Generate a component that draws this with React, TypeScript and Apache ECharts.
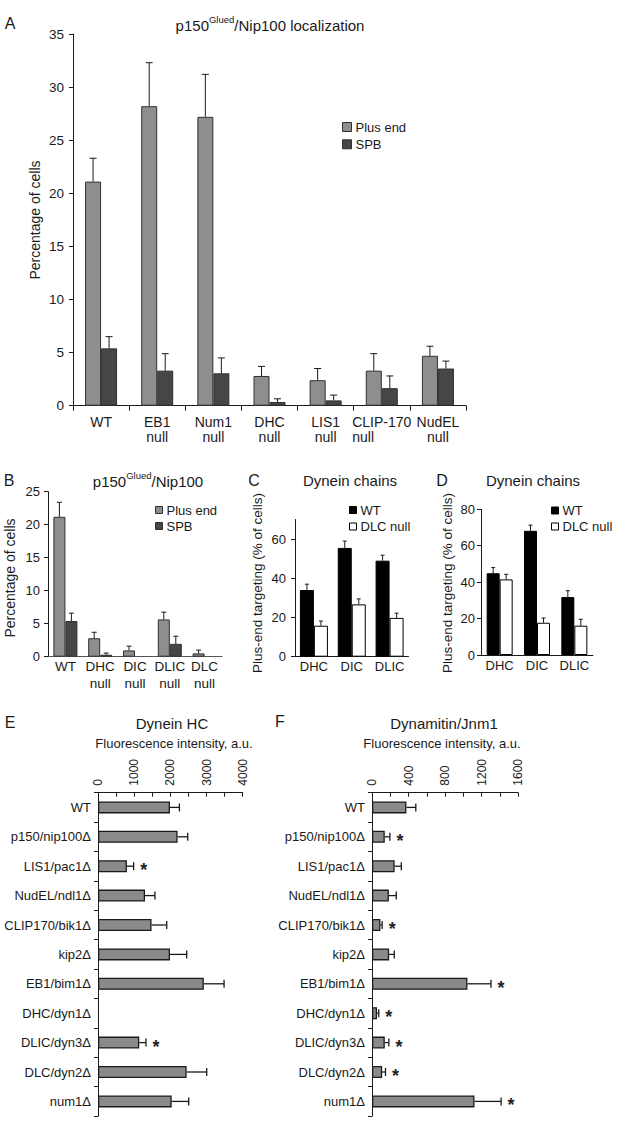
import { useEffect, useRef } from 'react';
import * as echarts from 'echarts';

const FONT = '"Liberation Sans", Arial, Helvetica, sans-serif';
const INK = '#1a1a1a';

// ---------- Panel A: p150Glued/Nip100 localization ----------
const catsA = ['WT', 'EB1\nnull', 'Num1\nnull', 'DHC\nnull', 'LIS1\nnull', 'CLIP-170\nnull', 'NudEL\nnull'];
const plusEndA = [21.1, 28.2, 27.2, 2.8, 2.4, 3.3, 4.7];
const plusEndErrA = [23.3, 32.3, 31.2, 3.7, 3.5, 4.9, 5.6];
const spbA = [5.4, 3.3, 3.05, 0.35, 0.5, 1.65, 3.5];
const spbErrA = [6.5, 4.9, 4.5, 0.65, 1.0, 2.8, 4.2];
const yMaxA = 35;
const yStepA = 5;

// ---------- Panel B ----------
const catsB = ['WT', 'DHC\nnull', 'DIC\nnull', 'DLIC\nnull', 'DLC\nnull'];
const plusEndB = [21.2, 2.8, 0.95, 5.65, 0.5];
const plusEndErrB = [23.4, 3.7, 1.6, 6.75, 1.0];
const spbB = [5.4, 0.3, 0, 1.95, 0];
const spbErrB = [6.6, 0.55, 0, 3.1, 0];
const yMaxB = 25;
const yStepB = 5;

// ---------- Panels C and D: Dynein chains ----------
const catsCD = ['DHC', 'DIC', 'DLIC'];
const wtC = [34, 55.5, 49];
const wtErrC = [37, 59, 51.8];
const dlcC = [15.8, 26.7, 19.8];
const dlcErrC = [18.2, 29.5, 22.2];
const yMaxC = 70;
const yStepC = 20;
const wtD = [44.9, 68.2, 31.8];
const wtErrD = [48, 71.3, 35.3];
const dlcD = [41.5, 17.7, 16.1];
const dlcErrD = [44.3, 20.3, 19.6];
const yMaxD = 80;
const yStepD = 20;

// ---------- Panels E and F: fluorescence intensity ----------
const catsEF = [
  'WT', 'p150/nip100Δ', 'LIS1/pac1Δ', 'NudEL/ndl1Δ', 'CLIP170/bik1Δ', 'kip2Δ',
  'EB1/bim1Δ', 'DHC/dyn1Δ', 'DLIC/dyn3Δ', 'DLC/dyn2Δ', 'num1Δ',
];
const valE = [1990, 2200, 800, 1300, 1480, 1990, 2925, null, 1140, 2450, 2037];
const errE = [2250, 2480, 985, 1575, 1900, 2452, 3485, null, 1326, 3005, 2507];
const sigE = [0, 0, 1, 0, 0, 0, 0, 0, 1, 0, 0];
const xMaxE = 4000;
const xStepE = 500;
const xLabelStepE = 1000;
const valF = [377, 140, 248, 185, 92, 188, 1046, 55, 140, 111, 1123];
const errF = [480, 196, 321, 266, 111, 244, 1304, 74, 185, 148, 1415];
const sigF = [0, 1, 0, 0, 1, 0, 1, 1, 1, 1, 1];
const xMaxF = 1600;
const xStepF = 200;
const xLabelStepF = 400;

const PLUS_FILL = '#8e8e8e';
const SPB_FILL = '#464646';

function vErr(gridIdx: number, vals: number[], errs: number[], offset: number, cap: number) {
  return {
    type: 'custom',
    xAxisIndex: gridIdx,
    yAxisIndex: gridIdx,
    silent: true,
    clip: false,
    z: 5,
    data: vals.map((v, i) => [i, v, errs[i]]),
    encode: { x: 0, y: [1, 2] },
    renderItem: (_p: any, api: any) => {
      const i = api.value(0);
      const v = api.value(1);
      const e = api.value(2);
      if (!(e > v)) return { type: 'group', children: [] };
      const p0 = api.coord([i, v]);
      const p1 = api.coord([i, e]);
      const x = p0[0] + offset;
      const st = { stroke: INK, lineWidth: 1 };
      return {
        type: 'group',
        children: [
          { type: 'line', shape: { x1: x, y1: p0[1], x2: x, y2: p1[1] }, style: st },
          { type: 'line', shape: { x1: x - cap / 2, y1: p1[1], x2: x + cap / 2, y2: p1[1] }, style: st },
        ],
      };
    },
  };
}

function hErr(gridIdx: number, vals: (number | null)[], errs: (number | null)[], sig: number[], cap: number) {
  return {
    type: 'custom',
    xAxisIndex: gridIdx,
    yAxisIndex: gridIdx,
    silent: true,
    clip: false,
    z: 5,
    data: vals.map((v, i) => [i, v == null ? 0 : v, errs[i] == null ? 0 : errs[i], sig[i]]),
    encode: { y: 0, x: [1, 2] },
    renderItem: (_p: any, api: any) => {
      const i = api.value(0);
      const v = api.value(1);
      const e = api.value(2);
      const s = api.value(3);
      if (!(e > v)) return { type: 'group', children: [] };
      const p0 = api.coord([v, i]);
      const p1 = api.coord([e, i]);
      const st = { stroke: INK, lineWidth: 1.3 };
      const children: any[] = [
        { type: 'line', shape: { x1: p0[0], y1: p0[1], x2: p1[0], y2: p1[1] }, style: st },
        { type: 'line', shape: { x1: p1[0], y1: p1[1] - cap / 2, x2: p1[0], y2: p1[1] + cap / 2 }, style: st },
      ];
      if (s) {
        children.push({
          type: 'text',
          x: p1[0] + 10,
          y: p1[1] + 4,
          style: {
            text: '*', fontSize: 18, fontWeight: 'bold', fontFamily: FONT, fill: '#222',
            align: 'center', verticalAlign: 'middle',
          },
        });
      }
      return { type: 'group', children };
    },
  };
}

const labelBase = { fontFamily: FONT, color: INK };

function valueY(gridIdx: number, max: number, step: number, margin: number, fontSize: number, extra: any = {}) {
  return {
    type: 'value',
    gridIndex: gridIdx,
    min: 0,
    max,
    interval: step,
    axisLine: { show: true, lineStyle: { color: INK, width: 1 } },
    axisTick: { show: true, length: 4, lineStyle: { color: INK } },
    splitLine: { show: false },
    axisLabel: { ...labelBase, fontSize, margin, ...extra },
  };
}

function catX(gridIdx: number, data: string[], fontSize: number, margin: number, lineHeight: number, ticks: boolean, lineColor = INK, extra: any = {}) {
  return {
    type: 'category',
    gridIndex: gridIdx,
    data,
    axisLine: { show: true, lineStyle: { color: lineColor, width: 1 } },
    axisTick: { show: ticks, length: 5, interval: 0, alignWithLabel: false, lineStyle: { color: INK } },
    axisLabel: { ...labelBase, fontSize, interval: 0, margin, lineHeight, ...extra },
  };
}

function topValueX(gridIdx: number, max: number, step: number, labelStep: number) {
  return {
    type: 'value',
    gridIndex: gridIdx,
    position: 'top',
    min: 0,
    max,
    interval: step,
    axisLine: { show: true, lineStyle: { color: INK, width: 1 } },
    axisTick: { show: true, inside: true, length: 4, lineStyle: { color: INK } },
    splitLine: { show: false },
    axisLabel: {
      ...labelBase,
      fontSize: 12,
      rotate: -90,
      margin: 7,
      formatter: (v: number) => (v % labelStep === 0 ? String(v) : ''),
    },
  };
}

function catYEF(gridIdx: number) {
  return {
    type: 'category',
    gridIndex: gridIdx,
    data: catsEF,
    inverse: true,
    axisLine: { show: true, lineStyle: { color: INK, width: 1 } },
    axisTick: { show: true, length: 4, interval: 0, alignWithLabel: false, lineStyle: { color: INK } },
    axisLabel: { ...labelBase, fontSize: 13, interval: 0, margin: 7 },
  };
}

function txt(text: string, x: number, y: number, fontSize: number, extra: any = {}) {
  return {
    type: 'text',
    x,
    y,
    silent: true,
    style: {
      text, fontSize, fontFamily: FONT, fill: INK, align: 'center', verticalAlign: 'middle',
      ...extra,
    },
  };
}

function vtxt(text: string, x: number, y: number, fontSize: number) {
  return { ...txt(text, x, y, fontSize), rotation: Math.PI / 2 };
}

const supRich = {
  m: { fontFamily: FONT, fontSize: 15, fill: INK, lineHeight: 22, verticalAlign: 'middle' },
  s: { fontFamily: FONT, fontSize: 9.5, fill: INK, lineHeight: 10, verticalAlign: 'top' },
};

function legend(names: string[], left: number, top: number, size: number, gap: number) {
  return {
    data: names,
    left,
    top,
    orient: 'vertical',
    padding: 0,
    itemWidth: size,
    itemHeight: size,
    itemGap: gap,
    icon: 'rect',
    selectedMode: false,
    itemStyle: { borderWidth: 1 },
    textStyle: { fontFamily: FONT, fontSize: 13, color: INK, lineHeight: 13, padding: [0, 0, 0, -1] },
  };
}

function buildOption() {
  const barA = { borderColor: '#303030', borderWidth: 1 };
  return {
    animation: false,
    backgroundColor: '#ffffff',
    textStyle: { fontFamily: FONT },
    grid: [
      { left: 73, top: 34, width: 393, height: 371.7 },
      { left: 48, top: 491.7, width: 174, height: 165 },
      { left: 295, top: 519.5, width: 113.5, height: 137.2 },
      { left: 481, top: 509.3, width: 112, height: 145.7 },
      { left: 98, top: 792.7, width: 144.7, height: 323.4 },
      { left: 372, top: 792.7, width: 146, height: 323.4 },
    ],
    xAxis: [
      catX(0, catsA, 14, 8, 15.6, true, INK, {
        formatter: (v: string) => (v === 'CLIP-170\nnull' ? '{l|CLIP-170}\n{l|null}' : v),
        rich: { l: { ...labelBase, fontSize: 14, lineHeight: 15.6, align: 'left' } },
      }),
      catX(1, catsB, 13.5, 2, 16.5, false, '#555'),
      catX(2, catsCD, 13, 3, 14, false),
      catX(3, catsCD, 13, 3, 14, false),
      topValueX(4, xMaxE, xStepE, xLabelStepE),
      topValueX(5, xMaxF, xStepF, xLabelStepF),
    ],
    yAxis: [
      valueY(0, yMaxA, yStepA, 9, 13.5),
      valueY(1, yMaxB, yStepB, 8, 13),
      valueY(2, yMaxC, yStepC, 9, 13, { showMaxLabel: false }),
      valueY(3, yMaxD, yStepD, 6, 13),
      catYEF(4),
      catYEF(5),
    ],
    legend: [
      legend(['Plus end', 'SPB'], 342, 120.5, 9, 4.3),
      legend(['Plus end', 'SPB'], 155, 503.5, 7, 3),
      legend(['WT', 'DLC null'], 349, 503.5, 7, 3.5),
      legend(['WT', 'DLC null'], 551, 504, 7, 3),
    ],
    series: [
      // A
      { type: 'bar', name: 'Plus end', xAxisIndex: 0, yAxisIndex: 0, data: plusEndA, barWidth: 16, barGap: '0%', itemStyle: { color: PLUS_FILL, ...barA } },
      { type: 'bar', name: 'SPB', xAxisIndex: 0, yAxisIndex: 0, data: spbA, barWidth: 16, barGap: '0%', itemStyle: { color: SPB_FILL, ...barA } },
      vErr(0, plusEndA, plusEndErrA, -8, 7),
      vErr(0, spbA, spbErrA, 8, 7),
      // B
      { type: 'bar', name: 'Plus end', xAxisIndex: 1, yAxisIndex: 1, data: plusEndB.map((v) => (v > 0 ? v : null)), barWidth: 12, barGap: '0%', itemStyle: { color: PLUS_FILL, ...barA } },
      { type: 'bar', name: 'SPB', xAxisIndex: 1, yAxisIndex: 1, data: spbB.map((v) => (v > 0 ? v : null)), barWidth: 12, barGap: '0%', itemStyle: { color: SPB_FILL, ...barA } },
      vErr(1, plusEndB, plusEndErrB, -6, 5),
      vErr(1, spbB, spbErrB, 6, 5),
      // C
      { type: 'bar', name: 'WT', xAxisIndex: 2, yAxisIndex: 2, data: wtC, barWidth: 14, barGap: '0%', itemStyle: { color: '#000', borderColor: '#000', borderWidth: 1 } },
      { type: 'bar', name: 'DLC null', xAxisIndex: 2, yAxisIndex: 2, data: dlcC, barWidth: 14, barGap: '0%', itemStyle: { color: '#fff', borderColor: '#000', borderWidth: 1 } },
      vErr(2, wtC, wtErrC, -7, 4),
      vErr(2, dlcC, dlcErrC, 7, 4),
      // D
      { type: 'bar', name: 'WT', xAxisIndex: 3, yAxisIndex: 3, data: wtD, barWidth: 13, barGap: '0%', itemStyle: { color: '#000', borderColor: '#000', borderWidth: 1 } },
      { type: 'bar', name: 'DLC null', xAxisIndex: 3, yAxisIndex: 3, data: dlcD, barWidth: 13, barGap: '0%', itemStyle: { color: '#fff', borderColor: '#000', borderWidth: 1 } },
      vErr(3, wtD, wtErrD, -6.5, 4),
      vErr(3, dlcD, dlcErrD, 6.5, 4),
      // E
      { type: 'bar', name: 'Dynein HC', xAxisIndex: 4, yAxisIndex: 4, data: valE, barWidth: 12, itemStyle: { color: '#8a8a8a', borderColor: INK, borderWidth: 1.3 } },
      hErr(4, valE, errE, sigE, 8),
      // F
      { type: 'bar', name: 'Dynamitin/Jnm1', xAxisIndex: 5, yAxisIndex: 5, data: valF, barWidth: 12, itemStyle: { color: '#8a8a8a', borderColor: INK, borderWidth: 1.3 } },
      hErr(5, valF, errF, sigF, 8),
    ],
    graphic: [
      txt('A', 10, 23, 16),
      txt('{m|p150}{s|Glued}{m|/Nip100 localization}', 270, 25, 15, { rich: supRich }),
      vtxt('Percentage of cells', 35, 220, 14),

      txt('B', 9, 480, 16),
      txt('{m|p150}{s|Glued}{m|/Nip100}', 148, 481, 15, { rich: supRich }),
      vtxt('Percentage of cells', 10, 578, 14),

      txt('C', 254, 480, 16),
      txt('Dynein chains', 350, 480, 15),
      vtxt('Plus-end targeting (% of cells)', 257, 583, 13.5),

      txt('D', 442, 480, 16),
      txt('Dynein chains', 533, 480, 15),
      vtxt('Plus-end targeting (% of cells)', 447, 583, 13.5),

      txt('E', 10, 722, 16),
      txt('Dynein HC', 172, 723, 15),
      txt('Fluorescence intensity, a.u.', 174, 743, 13),

      txt('F', 280, 721, 16),
      txt('Dynamitin/Jnm1', 444, 723, 15),
      txt('Fluorescence intensity, a.u.', 442, 743, 13),
    ],
  };
}

export default function App() {
  const ref = useRef<HTMLDivElement>(null);
  useEffect(() => {
    if (!ref.current) return;
    const chart = echarts.init(ref.current, null, { renderer: 'svg' });
    chart.setOption(buildOption() as any);
    return () => chart.dispose();
  }, []);
  return (
    <div
      ref={ref}
      style={{ position: 'absolute', left: 0, top: 0, width: 624, height: 1125, background: '#fff' }}
    />
  );
}
